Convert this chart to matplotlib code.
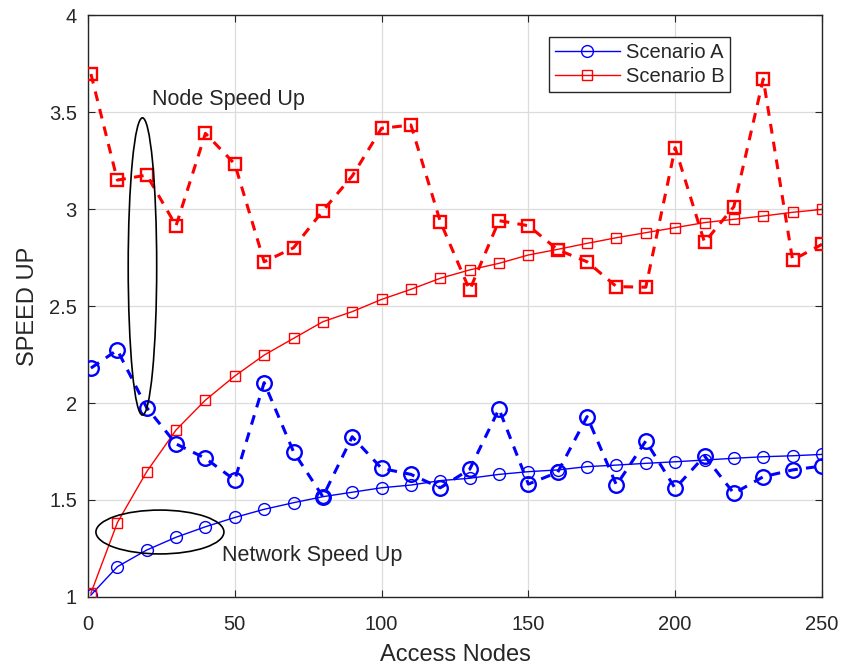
import matplotlib
matplotlib.use("Agg")
import matplotlib.pyplot as plt
from matplotlib.patches import Ellipse

plt.rcParams['font.family'] = ['Liberation Sans', 'DejaVu Sans']

access_nodes = [1, 10, 20, 30, 40, 50, 60, 70, 80, 90, 100, 110, 120, 130,
                140, 150, 160, 170, 180, 190, 200, 210, 220, 230, 240, 250]

a_network = [1.01, 1.156, 1.242, 1.308, 1.362, 1.41, 1.452, 1.486, 1.517, 1.54,
             1.563, 1.577, 1.60, 1.612, 1.632, 1.646, 1.655, 1.672, 1.68, 1.689,
             1.697, 1.706, 1.715, 1.723, 1.728, 1.735]
a_node = [2.18, 2.273, 1.976, 1.789, 1.715, 1.603, 2.105, 1.749, 1.517, 1.826,
          1.663, 1.632, 1.563, 1.658, 1.969, 1.582, 1.643, 1.93, 1.577, 1.804,
          1.56, 1.727, 1.534, 1.62, 1.655, 1.675]
b_network = [1.02, 1.383, 1.646, 1.861, 2.015, 2.139, 2.247, 2.333, 2.419, 2.471,
             2.534, 2.586, 2.643, 2.686, 2.72, 2.763, 2.792, 2.823, 2.852, 2.878,
             2.904, 2.93, 2.947, 2.964, 2.983, 2.998]
b_node = [3.696, 3.149, 3.175, 2.914, 3.39, 3.232, 2.728, 2.8, 2.991, 3.17,
          3.416, 3.433, 2.935, 2.582, 2.94, 2.914, 2.79, 2.728, 2.6, 2.597,
          3.316, 2.828, 3.012, 3.67, 2.737, 2.818]

series_labels = ['Scenario A', 'Scenario B']
x_ticks = [0, 50, 100, 150, 200, 250]
y_ticks = [1, 1.5, 2, 2.5, 3, 3.5, 4]
y_ticklabels = ['1', '1.5', '2', '2.5', '3', '3.5', '4']

BLUE = '#0000ff'
RED = '#ff0000'
DARK = '#262626'

fig = plt.figure(figsize=(8.42, 6.71), dpi=100)
ax = fig.add_axes([0.1045, 0.1103, 0.8717, 0.8673])

dash = (0, (3.2, 2.7))
ax.plot(access_nodes, a_network, color=BLUE, lw=1.0, marker='o', ms=8.5,
        mfc='none', mec=BLUE, mew=1.0, label=series_labels[0], zorder=3)
ax.plot(access_nodes, b_network, color=RED, lw=1.0, marker='s', ms=7.5,
        mfc='none', mec=RED, mew=1.0, label=series_labels[1], zorder=3)
ax.plot(access_nodes, a_node, color=BLUE, lw=2.2, ls=dash, marker='o', ms=10.5,
        mfc='none', mec=BLUE, mew=1.7, zorder=3)
ax.plot(access_nodes, b_node, color=RED, lw=2.2, ls=dash, marker='s', ms=8.5,
        mfc='none', mec=RED, mew=1.7, zorder=3)

ax.add_patch(Ellipse((18.55, 2.704), 9.7, 1.532, fill=False, ec='black', lw=1.2, zorder=4))
ax.add_patch(Ellipse((24.5, 1.335), 43.6, 0.226, fill=False, ec='black', lw=1.2, zorder=4))
ax.text(21.8, 3.562, 'Node Speed Up', fontsize=15.5, color=DARK, va='center', ha='left')
ax.text(45.5, 1.216, 'Network Speed Up', fontsize=15.5, color=DARK, va='center', ha='left')

ax.set_xlim(0, 250)
ax.set_ylim(1, 4)
ax.set_xticks(x_ticks)
ax.set_yticks(y_ticks)
ax.set_yticklabels(y_ticklabels)
ax.tick_params(direction='in', top=True, right=True, labelsize=14.5,
               colors=DARK, length=5, width=0.8)
ax.tick_params(axis='x', pad=13)
ax.tick_params(axis='y', pad=8)
ax.grid(True, color='#dcdcdc', lw=0.9)
ax.set_axisbelow(True)
for s in ax.spines.values():
    s.set_color(DARK)
    s.set_linewidth(1.0)

ax.set_xlabel('Access Nodes', fontsize=17, color=DARK, labelpad=7)
ax.set_ylabel('SPEED UP', fontsize=17, color=DARK, labelpad=7)

leg = ax.legend(loc='upper right', bbox_to_anchor=(0.875, 0.962), fontsize=14.5,
                frameon=True, fancybox=False, edgecolor=DARK, framealpha=1,
                borderpad=0.3, handlelength=3.2, handletextpad=0.3,
                labelspacing=0.25, borderaxespad=0)
leg.get_frame().set_linewidth(1.0)
for t in leg.get_texts():
    t.set_color(DARK)

fig.savefig('out.png', dpi=100)
